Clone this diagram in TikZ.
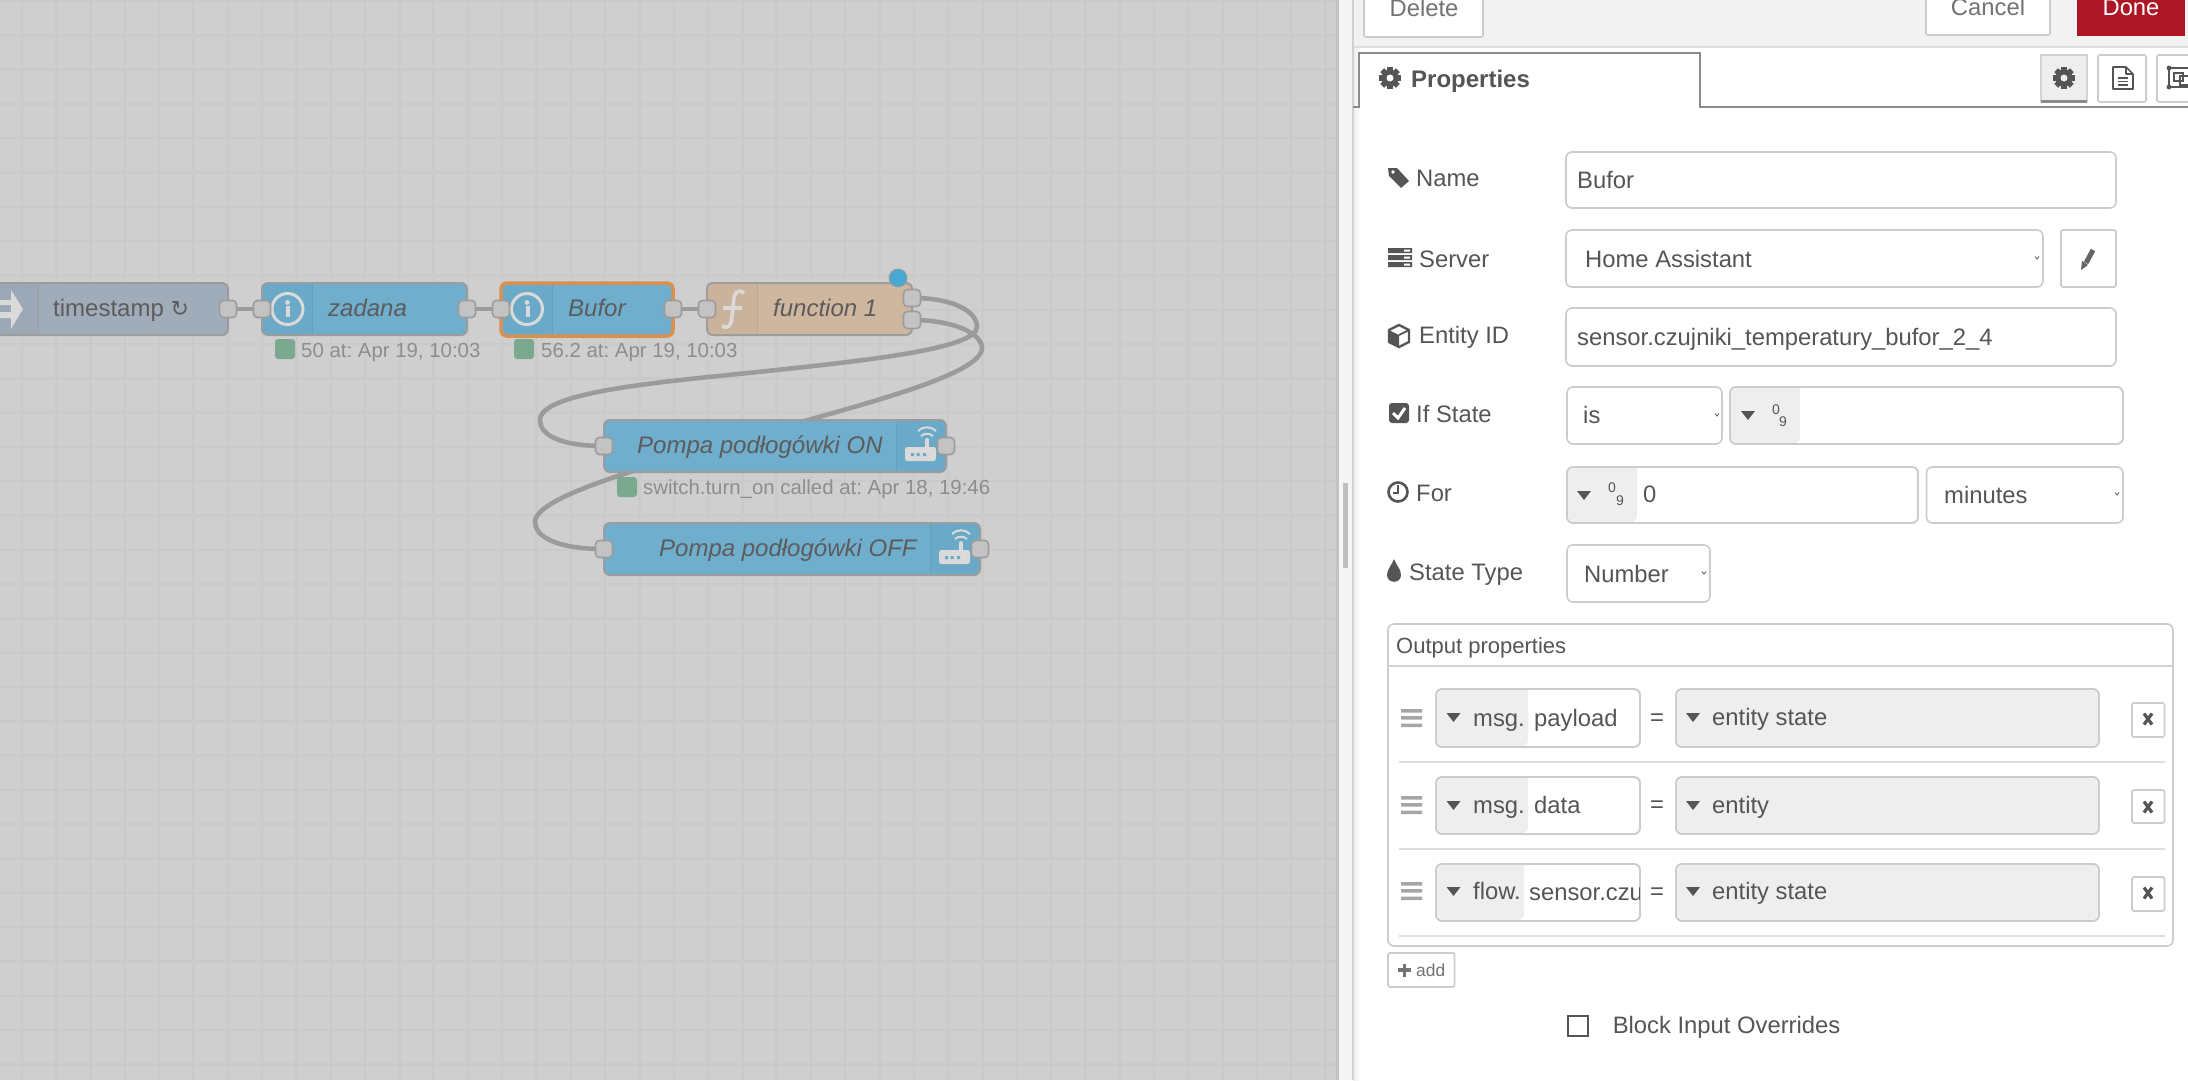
\documentclass[tikz,border=0pt]{standalone}
\usepackage{fontspec}
\setmainfont{Liberation Sans}
\newfontfamily\symbolfont{DejaVu Sans}
\usepackage{tikz}
\usetikzlibrary{backgrounds}
\usepackage{xcolor}
\frenchspacing

\definecolor{canvas}{HTML}{CFCFCF}
\definecolor{gridc}{HTML}{CACACA}
\definecolor{wirec}{HTML}{9B9B9B}
\definecolor{nodeblue}{HTML}{6FAECD}
\definecolor{paneblue}{HTML}{6BA9C8}
\definecolor{paneline}{HTML}{659FBC}
\definecolor{nodetan}{HTML}{CFB69F}
\definecolor{panetan}{HTML}{CBB29B}
\definecolor{tanline}{HTML}{BEA68F}
\definecolor{nodeslate}{HTML}{A0ACB9}
\definecolor{paneslate}{HTML}{9CA8B5}
\definecolor{nodeedge}{HTML}{9C9C9C}
\definecolor{portc}{HTML}{C3C3C3}
\definecolor{iconc}{HTML}{DADADA}
\definecolor{nodetext}{HTML}{5C5C5C}
\definecolor{statustext}{HTML}{8D8D8D}
\definecolor{statusgreen}{HTML}{7BA98F}
\definecolor{changedblue}{HTML}{48A8D2}
\definecolor{selectorange}{HTML}{D98F4F}
\definecolor{paneltextc}{HTML}{555555}
\definecolor{fieldedge}{HTML}{CCCCCC}
\definecolor{prefixc}{HTML}{EEEEEE}
\definecolor{donered}{HTML}{AD1625}

\tikzset{
  dropmark/.pic={\fill[paneltextc] (-7,-4) -- (7,-4) -- (0,5) -- cycle;},
  chevron/.pic={\draw[paneltextc,line width=0.8pt] (-2,-1.5) -- (0,1) -- (2,-1.5);},
  grip/.pic={\fill[black!35] (-10.5,-9) rectangle (10.5,-5.5) (-10.5,-2) rectangle (10.5,1.5) (-10.5,5.5) rectangle (10.5,9);},
  cross/.pic={\draw[paneltextc,line width=3.2pt] (-4,-5.5) -- (4,5.5) (4,-5.5) -- (-4,5.5);},
  gear/.pic={
    \foreach \a in {0,45,...,135}
      \fill[paneltextc,rotate=\a] (-2.8,-11) rectangle (2.8,11);
    \fill[paneltextc] (0,0) circle (8.5pt);
  },
  router/.pic={
    \fill[iconc,rounded corners=2.5pt] (-11,6) rectangle (20,20);
    \fill[iconc] (9,0) rectangle (13,6);
    \fill[paneblue] (-5,12) rectangle (-2,15) (0.5,12) rectangle (3.5,15) (7,12) rectangle (10,15);
    \fill[iconc] (11,-1) circle (2pt);
    \draw[iconc,line width=2pt] (5,-5) .. controls (8,-8) and (14,-8) .. (17,-5);
    \draw[iconc,line width=2pt] (2,-10) .. controls (7,-15) and (15,-15) .. (20,-10);
  },
  infomark/.pic={
    \draw[iconc,line width=3pt] (0,0) circle (15.5pt);
    \fill[iconc] (0,-6.5) circle (2.4pt);
    \draw[iconc,line width=4pt] (-1.5,-1.5) -- (0.5,-1.5) -- (0.5,8);
  }
}
\newcommand{\typedfield}[5]{%
  \draw[field] (#1,#2) rectangle (#3,#4);
  \fill[prefixc] (#5,#2+1) [rounded corners=6pt] -- (#1+1,#2+1) -- (#1+1,#4-1) -- (#5,#4-1) [sharp corners] -- cycle;
  \draw[field,fill=none] (#1,#2) rectangle (#3,#4);
}

\begin{document}
\begin{tikzpicture}[x=1pt,y=-1pt]
  \tikzstyle{gridline}=[draw=gridc,line width=2.4pt]
  \tikzstyle{wire}=[draw=wirec,line width=4.6pt]
  \tikzstyle{flownode}=[draw=nodeedge,line width=2pt,rounded corners=6pt,minimum height=52pt,inner sep=0pt]
  \tikzstyle{port}=[draw=nodeedge,fill=portc,line width=1.6pt,rounded corners=4pt,minimum size=17pt,inner sep=0pt]
  \tikzstyle{nodelabel}=[anchor=base west,inner sep=0pt,text=nodetext,font=\fontsize{24pt}{28pt}\selectfont\itshape]
  \tikzstyle{statusdot}=[fill=statusgreen,rounded corners=3pt,minimum size=20pt,inner sep=0pt]
  \tikzstyle{statuslabel}=[anchor=base west,inner sep=0pt,text=statustext,font=\fontsize{20.4pt}{24pt}\selectfont]
  \tikzstyle{paneltext}=[anchor=base west,inner sep=0pt,text=paneltextc,font=\fontsize{23.8pt}{28pt}\selectfont]
  \tikzstyle{tinytext}=[inner sep=0pt,text=paneltextc,font=\fontsize{14pt}{16pt}\selectfont]
  \tikzstyle{field}=[draw=fieldedge,fill=white,line width=1.6pt,rounded corners=6pt]
  \tikzstyle{flatbtn}=[draw=fieldedge,fill=white,line width=1.6pt,rounded corners=1.5pt]
  \tikzstyle{rowline}=[draw=black!13,line width=1.6pt]

  \useasboundingbox (0,0) rectangle (2188,1080);
  \clip (0,0) rectangle (2188,1080);

  % workspace
  \begin{pgfonlayer}{background}
    \fill[canvas] (0,0) rectangle (1340,1080);
    \foreach \x in {22,56.3,...,1340}
      \draw[gridline] (\x,0) -- (\x,1080);
    \foreach \y in {1,35.3,...,1080}
      \draw[gridline] (0,\y) -- (1340,\y);
  \end{pgfonlayer}

  % flow nodes
  \node[flownode,fill=nodeslate,minimum width=243pt] (timestamp) at (106.5,309) {};
  \fill[paneslate] (38,284) -- (-20,284) -- (-20,334) -- (38,334) -- cycle;
  \draw[nodeedge,line width=1pt] (38,284) -- (38,334);
  \fill[iconc] (0,300) rectangle (11,305) (0,312) rectangle (11,318);
  \fill[iconc] (11,290) -- (23,309) -- (11,329) -- cycle;
  \node[nodelabel,font=\fontsize{24pt}{28pt}\selectfont] (timestamp_label) at (53,316) {timestamp {\symbolfont\fontsize{22pt}{24pt}\selectfont ↻}};

  \node[flownode,fill=nodeblue,minimum width=205pt] (zadana) at (364.5,309) {};
  \fill[paneblue] (312,284) [rounded corners=5pt] -- (263,284) -- (263,334) -- (312,334) [sharp corners] -- cycle;
  \draw[paneline,line width=1pt] (312,284) -- (312,334);
  \pic at (287.5,309) {infomark};
  \node[nodelabel] (zadana_label) at (328,316) {zadana};

  \node[flownode,fill=nodeblue,draw=selectorange,line width=3.5pt,minimum width=172pt,minimum height=53pt] (bufor) at (587,309.5) {};
  \fill[paneblue] (552,285) [rounded corners=5pt] -- (503,285) -- (503,334) -- (552,334) [sharp corners] -- cycle;
  \draw[paneline,line width=1pt] (552,285) -- (552,334);
  \pic at (527,309) {infomark};
  \node[nodelabel] (bufor_label) at (568,316) {Bufor};

  \node[flownode,fill=nodetan,minimum width=205pt] (function) at (809.5,309) {};
  \fill[panetan] (757,284) [rounded corners=5pt] -- (708,284) -- (708,334) -- (757,334) [sharp corners] -- cycle;
  \draw[tanline,line width=1pt] (757,284) -- (757,334);
  \draw[iconc,line width=3.6pt] (744,293) .. controls (737,288) and (734,294) .. (733.5,302) -- (732,317) .. controls (731,327) and (727,329) .. (722,326);
  \draw[iconc,line width=3.2pt] (723,308) -- (742,308);
  \node[nodelabel] (function_label) at (773,316) {function 1};
  \node[circle,fill=changedblue,draw=nodeedge,line width=0.8pt,minimum size=18pt,inner sep=0pt] (changed) at (898,278) {};

  \node[flownode,fill=nodeblue,minimum width=342pt] (pump_on) at (775,446) {};
  \fill[paneblue] (896,421) [rounded corners=5pt] -- (945,421) -- (945,471) -- (896,471) [sharp corners] -- cycle;
  \draw[paneline,line width=1pt] (896,421) -- (896,471);
  \pic at (916,441) {router};
  \node[nodelabel] (pump_on_label) at (637,453) {Pompa podłogówki ON};

  \node[flownode,fill=nodeblue,minimum width=376pt] (pump_off) at (792,549) {};
  \fill[paneblue] (930,524) [rounded corners=5pt] -- (979,524) -- (979,573) -- (930,573) [sharp corners] -- cycle;
  \draw[paneline,line width=1pt] (930,524) -- (930,573);
  \pic at (950,544) {router};
  \node[nodelabel] (pump_off_label) at (659,556) {Pompa podłogówki OFF};

  % ports
  \node[port] (timestamp_out) at (228,309) {};
  \node[port] (zadana_in) at (262,309) {};
  \node[port] (zadana_out) at (467,309) {};
  \node[port] (bufor_in) at (501,309) {};
  \node[port] (bufor_out) at (673,309) {};
  \node[port] (function_in) at (707,309) {};
  \node[port] (function_out_a) at (912,298) {};
  \node[port] (function_out_b) at (912,320) {};
  \node[port] (pump_on_in) at (604,446) {};
  \node[port] (pump_on_out) at (946,446) {};
  \node[port] (pump_off_in) at (604,549) {};
  \node[port] (pump_off_out) at (980,549) {};

  % wires
  \begin{pgfonlayer}{background}
    \draw[wire] (timestamp_out.center) -- (zadana_in.center);
    \draw[wire] (zadana_out.center) -- (bufor_in.center);
    \draw[wire] (bufor_out.center) -- (function_in.center);
    \draw[wire] (function_out_a.center) .. controls (955,298) and (977,312) .. (977,327)
      .. controls (977,350) and (850,362) .. (758,372)
      .. controls (660,382) and (540,392) .. (540,420)
      .. controls (540,434) and (558,446) .. (pump_on_in.center);
    \draw[wire] (function_out_b.center) .. controls (955,320) and (982,334) .. (982,348)
      .. controls (982,375) and (860,405) .. (758,434)
      .. controls (660,463) and (535,495) .. (535,522)
      .. controls (535,536) and (555,549) .. (pump_off_in.center);
  \end{pgfonlayer}

  % status lines
  \node[statusdot] (zadana_dot) at (285,349) {};
  \node[statuslabel] (zadana_status) at (301,357) {50 at: Apr 19, 10:03};
  \node[statusdot] (bufor_dot) at (524,349) {};
  \node[statuslabel] (bufor_status) at (541,357) {56.2 at: Apr 19, 10:03};
  \node[statusdot] (pump_on_dot) at (627,487) {};
  \node[statuslabel] (pump_on_status) at (643,494) {switch.turn\_on called at: Apr 18, 19:46};

  % tray
  \fill[black!24] (1336,0) rectangle (1339,1080);
  \fill[black!4] (1339,0) rectangle (1352,1080);
  \fill[black!25] (1343,483) rectangle (1348,568);
  \fill[white] (1353,0) rectangle (2188,1080);
  \shade[left color=black!7,right color=white] (1353,47) rectangle (1361,1080);
  \fill[black!5] (1353,0) rectangle (2188,47);
  \draw[black!13,line width=2pt] (1353,47) -- (2188,47);
  \draw[black!18,line width=2pt] (1353,0) -- (1353,1080);

  \draw[flatbtn] (1364,-10) rectangle (1483,37);
  \node[paneltext,anchor=base,text=black!55] (delete) at (1424,16) {Delete};
  \draw[flatbtn] (1926,-10) rectangle (2050,35);
  \node[paneltext,anchor=base,text=black!55] (cancel) at (1988,15) {Cancel};
  \fill[donered] (2077,-10) rectangle (2185,36);
  \node[paneltext,anchor=base,text=white] (done) at (2131,15) {Done};

  \fill[white] (1359,53) rectangle (1700,108);
  \draw[black!45,line width=1.6pt] (1353,107) -- (1359,107) -- (1359,53) -- (1700,53) -- (1700,107) -- (2188,107);
  \pic at (1390,78) {gear};
  \fill[white] (1390,78) circle (3.5pt);
  \node[paneltext,font=\fontsize{24pt}{28pt}\selectfont\bfseries] (properties) at (1411,87) {Properties};

  \fill[prefixc] (2041,55) rectangle (2087,102);
  \draw[black!18,line width=1.6pt] (2041,102) -- (2041,55) -- (2087,55) -- (2087,102);
  \draw[black!45,line width=2.6pt] (2041,101.5) -- (2087,101.5);
  \pic at (2064,78) {gear};
  \fill[prefixc] (2064,78) circle (3.5pt);
  \draw[flatbtn] (2098,55) rectangle (2146,102);
  \draw[paneltextc,line width=1.6pt,line join=round] (2113,67) -- (2126,67) -- (2133,74) -- (2133,89) -- (2113,89) -- cycle (2126,67) -- (2126,74) -- (2133,74);
  \draw[paneltextc,line width=1.3pt] (2118,78) -- (2128,78) (2118,81.5) -- (2128,81.5) (2118,85) -- (2128,85);
  \draw[flatbtn] (2157,55) rectangle (2200,102);
  \draw[paneltextc,line width=1.5pt] (2169,68) rectangle (2200,87) (2174,73) rectangle (2183,81) (2180,76) rectangle (2200,85);
  \fill[paneltextc] (2169,68) circle (2.4pt) (2169,87) circle (2.4pt);

  % form rows
  \fill[paneltextc] (1388,168) -- (1397,168) -- (1409,181) -- (1401,188) -- (1389,176) -- cycle;
  \fill[white] (1393,172) circle (1.8pt);
  \node[paneltext] (name_label) at (1416,186) {Name};
  \draw[field] (1566,152) rectangle (2116,208);
  \node[paneltext] (name_value) at (1577,188) {Bufor};

  \fill[paneltextc] (1388,248) rectangle (1412,253) (1388,255) rectangle (1412,260) (1388,262) rectangle (1412,267);
  \fill[white] (1404,249.5) rectangle (1410,251.5) (1404,256.5) rectangle (1410,258.5) (1404,263.5) rectangle (1410,265.5);
  \node[paneltext] (server_label) at (1419,267) {Server};
  \draw[field] (1566,230) rectangle (2043,287);
  \node[paneltext] (server_value) at (1585,267) {Home Assistant};
  \pic at (2037,258) {chevron};
  \draw[flatbtn] (2061,230) rectangle (2116,287);
  \draw[black!60,line width=5pt] (2093,250) -- (2086,263);
  \fill[black!60] (2082,261) -- (2088,265) -- (2081,270) -- cycle;

  \draw[paneltextc,line width=2.4pt,line join=round] (1399,325) -- (1409,330) -- (1409,342) -- (1399,347) -- (1389,342) -- (1389,330) -- cycle;
  \fill[paneltextc] (1389,330) -- (1399,335) -- (1399,347) -- (1389,342) -- cycle;
  \draw[paneltextc,line width=1.8pt] (1399,335) -- (1409,330);
  \node[paneltext] (entity_label) at (1419,343) {Entity ID};
  \draw[field] (1566,308) rectangle (2116,366);
  \node[paneltext] (entity_value) at (1577,345) {sensor.czujniki\_temperatury\_bufor\_2\_4};

  \fill[paneltextc,rounded corners=3pt] (1389,403) rectangle (1409,423);
  \draw[white,line width=3pt] (1393,413) -- (1398,418) -- (1405,408);
  \node[paneltext] (ifstate_label) at (1416,422) {If State};
  \draw[field] (1567,387) rectangle (1722,444);
  \node[paneltext] (ifstate_op) at (1583,423) {is};
  \pic at (1717,415) {chevron};
  \typedfield{1730}{387}{2123}{444}{1800}
  \pic at (1748,415) {dropmark};
  \node[tinytext] (ifstate_zero) at (1776,410) {0};
  \node[tinytext] (ifstate_nine) at (1783,422) {9};

  \draw[paneltextc,line width=2.6pt] (1398,492) circle (9.5pt);
  \draw[paneltextc,line width=2.2pt] (1398,485) -- (1398,493) -- (1393,493);
  \node[paneltext] (for_label) at (1416,501) {For};
  \typedfield{1567}{467}{1918}{523}{1637}
  \pic at (1584,495) {dropmark};
  \node[tinytext] (for_zero) at (1612,488) {0};
  \node[tinytext] (for_nine) at (1620,501) {9};
  \node[paneltext] (for_value) at (1643,502) {0};
  \draw[field] (1926.5,467) rectangle (2123,523);
  \node[paneltext] (for_unit) at (1944,503) {minutes};
  \pic at (2117,494) {chevron};

  \fill[paneltextc] (1394,559) .. controls (1396,565) and (1401,569) .. (1401,575) .. controls (1401,584) and (1387,584) .. (1387,575) .. controls (1387,569) and (1392,565) .. (1394,559);
  \node[paneltext] (statetype_label) at (1409,580) {State Type};
  \draw[field] (1567,545) rectangle (1710,602);
  \node[paneltext] (statetype_value) at (1584,582) {Number};
  \pic at (1704,573) {chevron};

  % output properties
  \draw[field] (1388,624) rectangle (2173,946);
  \draw[black!18,line width=1.6pt] (1388,666) -- (2173,666);
  \node[paneltext,font=\fontsize{22pt}{26pt}\selectfont] (output_title) at (1396,653) {Output properties};

  \pic at (1411.5,718) {grip};
  \typedfield{1436}{689}{1640}{747}{1528}
  \pic at (1453.5,717) {dropmark};
  \node[paneltext] (row_a_scope) at (1473,726) {msg.};
  \node[paneltext] (row_a_key) at (1534,726) {payload};
  \node[paneltext,anchor=base] (row_a_eq) at (1657,725) {=};
  \typedfield{1676}{689}{2099}{747}{2098}
  \pic at (1693,717) {dropmark};
  \node[paneltext] (row_a_value) at (1712,725) {entity state};
  \draw[flatbtn] (2132,703) rectangle (2164.5,737);
  \pic at (2148,719) {cross};
  \draw[rowline] (1399,762) -- (2165,762);

  \pic at (1411.5,805) {grip};
  \typedfield{1436}{777}{1640}{834}{1528}
  \pic at (1453.5,805) {dropmark};
  \node[paneltext] (row_b_scope) at (1473,813) {msg.};
  \node[paneltext] (row_b_key) at (1534,813) {data};
  \node[paneltext,anchor=base] (row_b_eq) at (1657,812) {=};
  \typedfield{1676}{777}{2099}{834}{2098}
  \pic at (1693,805) {dropmark};
  \node[paneltext] (row_b_value) at (1712,813) {entity};
  \draw[flatbtn] (2132,790) rectangle (2164.5,823);
  \pic at (2148,807) {cross};
  \draw[rowline] (1399,849) -- (2165,849);

  \pic at (1411.5,891) {grip};
  \typedfield{1436}{864}{1640}{921}{1524}
  \pic at (1453.5,891) {dropmark};
  \node[paneltext] (row_c_scope) at (1473,899) {flow.};
  \begin{scope}
    \clip (1525,866) rectangle (1639,920);
    \node[paneltext] (row_c_key) at (1529,900) {sensor.czu};
  \end{scope}
  \node[paneltext,anchor=base] (row_c_eq) at (1657,899) {=};
  \typedfield{1676}{864}{2099}{921}{2098}
  \pic at (1693,891) {dropmark};
  \node[paneltext] (row_c_value) at (1712,899) {entity state};
  \draw[flatbtn] (2132,877) rectangle (2164.5,911);
  \pic at (2148,893) {cross};
  \draw[rowline] (1399,936) -- (2165,936);

  \draw[flatbtn] (1388,953) rectangle (1454.5,987);
  \draw[black!55,line width=3.2pt] (1398,970) -- (1411,970) (1404.5,963.5) -- (1404.5,976.5);
  \node[paneltext,font=\fontsize{17.4pt}{20pt}\selectfont,text=black!55] (add_label) at (1416,976) {add};

  \draw[paneltextc,line width=1.6pt] (1568,1016) rectangle (1588,1036);
  \node[paneltext] (block_label) at (1612.6,1033) {Block Input Overrides};
\end{tikzpicture}
\end{document}
